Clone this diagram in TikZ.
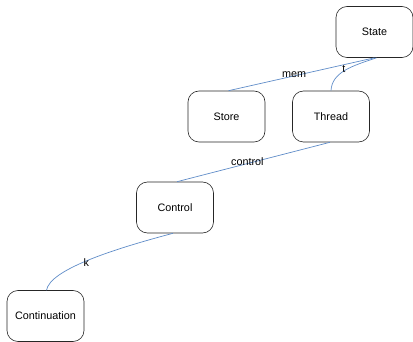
\documentclass[tikz,border=0pt]{standalone}
\usepackage{fontspec}
\setmainfont{Liberation Sans}
\definecolor{edgeblue}{RGB}{95,140,200}
\tikzset{
  box/.style={draw=black!85, line width=0.6pt, rounded corners=11pt, minimum width=77pt, minimum height=51pt, inner sep=0pt, font=\fontsize{10.8}{12}\selectfont},
  link/.style={draw=edgeblue, line width=0.7pt},
  lbl/.style={font=\fontsize{10.8}{12}\selectfont, inner sep=1pt}
}
\begin{document}
\begin{tikzpicture}[x=1pt,y=-1pt]
\useasboundingbox (0,0) rectangle (413,342);
\node[box] (state) at (374.5,32) {State};
\node[box] (store) at (226.5,116.5) {Store};
\node[box] (thread) at (331,116.5) {Thread};
\node[box] (control) at (175,207.5) {Control};
\node[box] (cont) at (45.5,316) {Continuation};
\draw[link] (state.south) -- node[lbl, pos=0.55, yshift=1pt] {mem} ([xshift=2pt]store.north);
\draw[link] ([xshift=2pt]state.south) .. controls (352,66) and (332,72) .. (thread.north) node[lbl, pos=0.5, xshift=-1pt, yshift=1pt] {t};
\draw[link] ([xshift=-1pt]thread.south) -- node[lbl, pos=0.54, yshift=2pt] {control} ([xshift=2pt]control.north);
\draw[link] ([xshift=-2pt]control.south) .. controls (110,250) and (50,270) .. ([xshift=1pt]cont.north) node[lbl, pos=0.5, xshift=-1pt, yshift=-2pt] {k};
\end{tikzpicture}
\end{document}
